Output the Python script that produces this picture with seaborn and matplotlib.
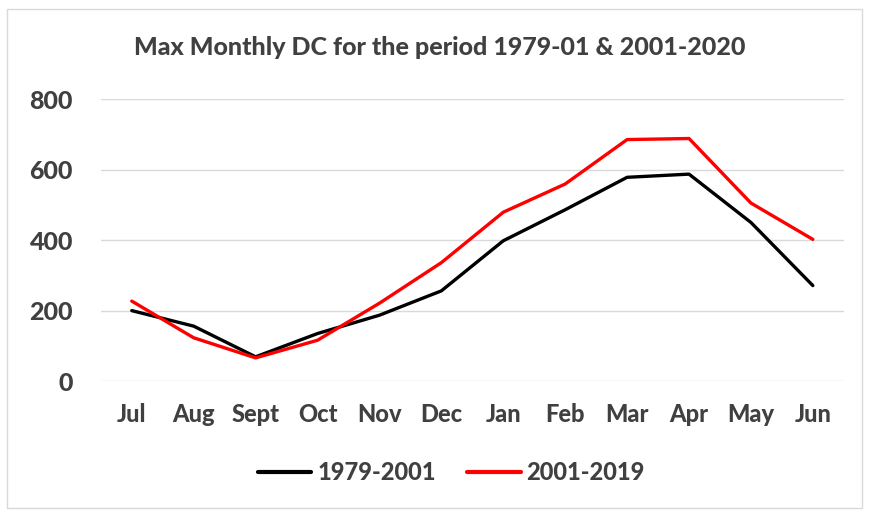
import numpy as np
import pandas as pd
import matplotlib
matplotlib.use("Agg")
import matplotlib.pyplot as plt
import seaborn as sns
from matplotlib.patches import Rectangle

# Data
months = ["Jul", "Aug", "Sept", "Oct", "Nov", "Dec", "Jan", "Feb", "Mar", "Apr", "May", "Jun"]
dc_1979_2001 = [200, 156, 69, 135, 187, 256, 398, 486, 578, 587, 450, 271]
dc_2001_2019 = [227, 123, 66, 116, 221, 336, 479, 559, 685, 688, 505, 402]
series_names = ["1979-2001", "2001-2019"]
yticks = [0, 200, 400, 600, 800]

df = pd.DataFrame({
    "month": months * 2,
    "dc": dc_1979_2001 + dc_2001_2019,
    "period": [series_names[0]] * len(months) + [series_names[1]] * len(months),
})

sns.set_theme(style="white")
plt.rcParams["font.family"] = ["Lato", "DejaVu Sans"]
text_col = "#404040"
weight = 900

fig = plt.figure(figsize=(8.69, 5.13), dpi=100)
ax = fig.add_axes([0.116, 0.257, 0.855, 0.55])

sns.lineplot(data=df, x="month", y="dc", hue="period", sort=False,
             palette={series_names[0]: "black", series_names[1]: "#ff0000"},
             linewidth=2.4, ax=ax)

ax.set_xlim(-0.5, len(months) - 0.5)
ax.set_ylim(0, 800)
ax.set_yticks(yticks)
ax.yaxis.grid(True, color="#d9d9d9", linewidth=1.0)
ax.set_axisbelow(True)
for s in ax.spines.values():
    s.set_visible(False)
ax.set_xlabel("")
ax.set_ylabel("")
ax.tick_params(axis="both", length=0, colors=text_col)
ax.tick_params(axis="y", labelsize=18, pad=20)
ax.tick_params(axis="x", labelsize=17, pad=16)
for lbl in ax.get_xticklabels() + ax.get_yticklabels():
    lbl.set_fontweight(weight)

fig.text(0.506, 0.908, "Max Monthly DC for the period 1979-01 & 2001-2020",
         ha="center", va="center", fontsize=18, fontweight=weight, color=text_col)

leg = ax.legend(loc="center", bbox_to_anchor=(0.472, -0.325), ncol=2,
                frameon=False, fontsize=17, handlelength=2.25, columnspacing=1.35,
                handletextpad=0.25)
for t in leg.get_texts():
    t.set_fontweight(weight)
    t.set_color(text_col)
for line in leg.get_lines():
    line.set_linewidth(3)

fig.patches.append(Rectangle((0.008, 0.01), 0.984, 0.972, transform=fig.transFigure,
                             fill=False, edgecolor="#d9d9d9", linewidth=1.0))

fig.savefig("out.png", dpi=100)
